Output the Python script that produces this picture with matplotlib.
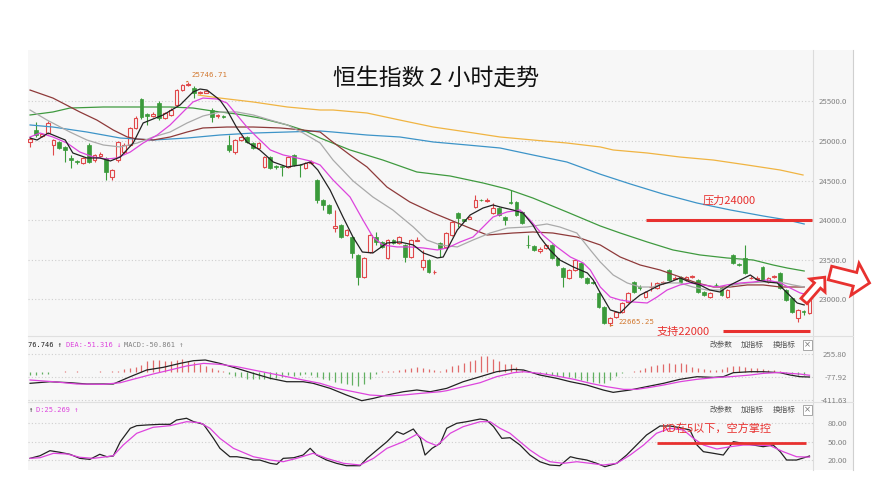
import matplotlib
matplotlib.use('Agg')
import matplotlib.pyplot as plt
from matplotlib.patches import Rectangle, FancyArrow
import numpy as np

plt.rcParams['font.family'] = ['Noto Sans CJK SC', 'DejaVu Sans']

# ---------------- data ----------------
opens = [24990, 25140, 25065, 25100, 24949, 24987, 24924, 24780, 24745, 24721,
         24949, 24759, 24815, 24785, 24545, 24759, 24860, 24949, 25164, 25530,
         25335, 25320, 25479, 25290, 25328, 25454, 25643, 25705, 25669, 25600,
         25610, 25391, 25310, 25320, 24949, 24860, 25012, 25050, 24975, 24911,
         24671, 24797, 24680, 24680, 24671, 24823, 24700, 24658, 24725, 24507,
         24260, 24191, 23900, 23938, 23812, 23787, 23560, 23282, 23597, 23787,
         23724, 23522, 23749, 23711, 23686, 23534, 23740, 23408, 23496, 23340,
         23711, 23661, 23812, 24090, 24010, 24020, 24165, 24260, 24245, 24090,
         24153, 24040, 24235, 24228, 24100, 23690, 23673, 23615, 23648, 23686,
         23522, 23395, 23269, 23370, 23458, 23269, 23215, 23080, 22903, 22701,
         22776, 22840, 22966, 23218, 23150, 23029, 23150, 23143, 23200, 23370,
         23262, 23282, 23244, 23280, 23244, 23092, 23029, 23185, 23143, 23029,
         23560, 23440, 23522, 23265, 23262, 23408, 23218, 23278, 23332, 23117,
         23016, 22764, 22850, 22827]
highs = [25045, 25240, 25100, 25250, 25030, 25000, 24940, 24823, 24760, 24800,
         24975, 24840, 24860, 24800, 24650, 25000, 24970, 25180, 25310, 25545,
         25350, 25360, 25500, 25370, 25410, 25660, 25720, 25746.71, 25700, 25630,
         25640, 25410, 25340, 25330, 25075, 25030, 25065, 25065, 24990, 24990,
         24810, 24810, 24690, 24690, 24810, 24840, 24710, 24735, 24760, 24520,
         24270, 24200, 24128, 23950, 23890, 23800, 23570, 23535, 23830, 23850,
         23740, 23765, 23760, 23800, 23700, 23765, 23790, 23623, 23510, 23370,
         23725, 23850, 23990, 24100, 24020, 24050, 24317, 24270, 24275, 24216,
         24165, 24050, 24380, 24240, 24115, 23812, 23690, 23660, 23700, 23700,
         23535, 23410, 23385, 23510, 23470, 23280, 23225, 23095, 22915, 22780,
         22855, 22965, 23090, 23230, 23180, 23105, 23220, 23220, 23230, 23385,
         23290, 23295, 23300, 23305, 23260, 23105, 23095, 23200, 23155, 23130,
         23575, 23455, 23686, 23290, 23290, 23420, 23285, 23305, 23345, 23130,
         23030, 22880, 22860, 23005]
lows = [24920, 25050, 25050, 25090, 24823, 24900, 24734, 24658, 24710, 24710,
        24720, 24740, 24800, 24507, 24510, 24740, 24840, 24930, 25150, 25280,
        25200, 25300, 25270, 25280, 25310, 25440, 25630, 25690, 25540, 25590,
        25600, 25240, 25290, 25290, 24860, 24840, 25000, 24970, 24900, 24900,
        24660, 24640, 24650, 24560, 24655, 24680, 24545, 24645, 24715, 24215,
        24128, 24080, 23850, 23770, 23800, 23522, 23181, 23270, 23580, 23686,
        23650, 23510, 23700, 23700, 23470, 23520, 23730, 23370, 23330, 23320,
        23534, 23650, 23800, 23913, 23985, 24010, 24150, 24240, 24235, 24080,
        24050, 23938, 24200, 24050, 23950, 23648, 23610, 23590, 23635, 23510,
        23420, 23155, 23255, 23360, 23270, 23195, 23190, 22890, 22690, 22665.25,
        22765, 22830, 22955, 23080, 23120, 23015, 23100, 23130, 23190, 23230,
        23250, 23205, 23230, 23270, 23080, 23040, 23015, 23165, 23040, 23015,
        23445, 23420, 23320, 23250, 23250, 23230, 23205, 23265, 23130, 22980,
        22825, 22713, 22800, 22815]
closes = [25020, 25075, 25085, 25227, 25012, 24911, 24886, 24760, 24730, 24785,
          24734, 24823, 24830, 24608, 24633, 24987, 24949, 25164, 25290, 25302,
          25320, 25340, 25290, 25353, 25391, 25643, 25707, 25725, 25606, 25615,
          25625, 25302, 25325, 25305, 24886, 25012, 25050, 24987, 24911, 24975,
          24797, 24658, 24665, 24665, 24797, 24696, 24690, 24721, 24740, 24254,
          24191, 24090, 23925, 23787, 23875, 23585, 23282, 23522, 23812, 23724,
          23661, 23749, 23711, 23787, 23534, 23749, 23755, 23496, 23345, 23350,
          23648, 23837, 23976, 24027, 23995, 24035, 24254, 24248, 24260, 24153,
          24065, 24002, 24220, 24065, 23964, 23680, 23623, 23630, 23686, 23522,
          23433, 23282, 23370, 23496, 23282, 23206, 23200, 22903, 22701, 22764,
          22840, 22953, 23080, 23092, 23140, 23092, 23160, 23206, 23215, 23244,
          23275, 23218, 23282, 23292, 23092, 23054, 23080, 23175, 23054, 23117,
          23458, 23430, 23332, 23275, 23275, 23244, 23269, 23290, 23143, 22991,
          22840, 22865, 22835, 22991]

ma5_x = [0, 1.2, 3.1, 6.0, 7.3, 9.7, 11.9, 13.7, 15.4, 17.6, 19.3, 22.7, 25.6, 27.8, 29.0,
         30.2, 32.4, 33.6, 35.3, 37.0, 39.2, 41.5, 43.9, 46.1, 47.8, 49.1, 51.2, 53.4, 55.1,
         56.7, 58.5, 60.9, 63.1, 65.4, 67.1, 69.5, 70.5, 72.9, 75.1, 77.3, 79.0, 80.2, 82.4,
         84.1, 85.8, 87.0, 88.7, 90.4, 92.7, 95.1, 96.1, 97.3, 99.0, 100.7, 102.4, 104.1,
         105.8, 107.5, 109.2, 110.9, 112.6, 114.3, 116.0, 117.7, 119.5, 121.2, 122.9, 124.1,
         125.8, 127.5, 129.2, 130.9, 132.1]
ma5_y = [25037, 25012, 25100, 25012, 24848, 24785, 24785, 24747, 24797, 24974, 25227, 25328,
         25454, 25618, 25656, 25643, 25517, 25391, 25164, 24987, 24886, 24734, 24671, 24696,
         24734, 24633, 24380, 24039, 23787, 23597, 23585, 23711, 23724, 23686, 23585, 23522,
         23534, 23875, 24065, 24153, 24191, 24166, 24128, 24090, 23938, 23787, 23623, 23496,
         23408, 23332, 23244, 23080, 22865, 22827, 22953, 23054, 23117, 23181, 23218, 23269,
         23218, 23181, 23117, 23092, 23181, 23244, 23307, 23244, 23218, 23206, 23080, 22953,
         22928]
ma10_x = [0, 1.7, 3.9, 6.3, 8.5, 10.8, 13.1, 14.8, 17.1, 19.3, 21.7, 23.9, 26.1, 27.8, 29.5,
          31.9, 33.6, 35.3, 37.0, 38.7, 41.0, 43.2, 45.6, 47.8, 49.5, 51.7, 54.6, 56.8, 58.5,
          60.2, 62.6, 64.8, 67.1, 69.5, 71.2, 73.4, 75.6, 77.3, 79.0, 81.4, 83.6, 85.3, 87.5,
          89.9, 92.2, 94.4, 95.6, 97.3, 99.0, 100.7, 102.9, 105.3, 107.0, 108.7, 110.9, 112.6,
          114.8, 117.2, 118.9, 121.2, 123.4, 125.8, 128.0, 129.7, 131.4, 132.1]
ma10_y = [25050, 25100, 25050, 24974, 24860, 24797, 24772, 24785, 24860, 24974, 25075, 25202,
          25366, 25492, 25542, 25530, 25479, 25328, 25176, 25050, 24886, 24823, 24785, 24747,
          24696, 24507, 24292, 24002, 23787, 23686, 23661, 23661, 23648, 23623, 23648, 23724,
          23787, 23913, 24039, 24103, 24128, 24002, 23812, 23661, 23534, 23458, 23370, 23155,
          23029, 22991, 22966, 22953, 23029, 23117, 23181, 23206, 23181, 23155, 23181, 23206,
          23218, 23244, 23206, 23143, 23080, 23067]
ma20_x = [0, 2.9, 6.8, 9.7, 12.5, 15.4, 18.3, 21.0, 23.9, 26.8, 29.5, 32.4, 35.3, 38.1, 41.0,
          43.9, 46.6, 49.5, 51.7, 55.1, 58.5, 61.9, 65.4, 67.7, 70.0, 72.9, 75.6, 78.5, 81.4,
          84.8, 88.2, 90.4, 93.3, 95.6, 97.3, 99.5, 101.9, 104.1, 106.3, 108.0, 110.9, 113.1,
          115.5, 117.7, 120.0, 122.4, 125.1, 128.0, 130.2, 132.1]
ma20_y = [25391, 25264, 25113, 25012, 24949, 24924, 24974, 25050, 25113, 25227, 25315, 25366,
          25366, 25328, 25264, 25202, 25100, 24974, 24759, 24496, 24292, 24128, 23913, 23749,
          23686, 23661, 23749, 23837, 23900, 23913, 23951, 23913, 23837, 23623, 23471, 23307,
          23206, 23155, 23155, 23206, 23206, 23155, 23117, 23117, 23181, 23206, 23218, 23218,
          23181, 23155]
ma30_x = [0, 3.9, 8.5, 11.4, 14.2, 16.6, 18.3, 21.0, 23.9, 26.8, 29.5, 33.6, 38.1, 42.7, 46.6,
          49.5, 51.2, 54.6, 57.5, 60.9, 64.8, 68.8, 71.7, 74.6, 78.0, 82.4, 85.8, 89.2, 93.3,
          97.3, 100.7, 104.1, 107.5, 110.9, 113.8, 116.6, 119.5, 122.4, 125.1, 128.0, 132.1]
ma30_y = [25643, 25542, 25366, 25264, 25138, 25050, 25024, 25012, 25050, 25113, 25164, 25176,
          25176, 25164, 25138, 25113, 25012, 24823, 24671, 24418, 24229, 24090, 24002, 23913,
          23812, 23837, 23850, 23837, 23787, 23686, 23534, 23433, 23370, 23282, 23206, 23155,
          23155, 23181, 23181, 23155, 23155]
ma60_x = [0, 3.9, 6.8, 12.5, 18.3, 23.9, 27.8, 31.2, 35.3, 39.2, 43.9, 46.6, 49.5, 54.6, 60.2,
          66.0, 71.7, 77.3, 81.4, 85.8, 91.6, 97.3, 100.7, 105.3, 109.7, 114.3, 118.9, 123.4,
          126.8, 129.2, 132.1]
ma60_y = [25328, 25366, 25416, 25429, 25429, 25429, 25416, 25378, 25340, 25290, 25202, 25138,
          25037, 24886, 24759, 24608, 24557, 24469, 24393, 24279, 24103, 23926, 23837, 23724,
          23623, 23560, 23522, 23496, 23433, 23395, 23357]
ma120_x = [0, 3.9, 9.7, 15.4, 21.0, 26.8, 32.4, 38.1, 43.9, 49.5, 51.7, 57.5, 63.1, 68.8, 74.6,
           80.2, 85.8, 91.6, 97.3, 102.4, 108.0, 113.8, 119.5, 125.1, 129.2, 132.1]
ma120_y = [25202, 25176, 25113, 25037, 25012, 25037, 25075, 25100, 25113, 25126, 25113, 25075,
           25050, 24987, 24949, 24911, 24823, 24734, 24580, 24457, 24330, 24216, 24128, 24052,
           24002, 23951]
ma250_x = [28.7, 32.4, 38.1, 43.9, 49.5, 51.7, 57.5, 63.1, 68.8, 74.6, 80.2, 85.8, 91.6, 97.3,
           99.5, 105.3, 110.9, 116.6, 122.4, 128.0, 131.9]
ma250_y = [25580, 25542, 25492, 25429, 25391, 25391, 25353, 25264, 25176, 25113, 25050, 25012,
           24974, 24924, 24886, 24848, 24797, 24759, 24696, 24633, 24570]

macd_hist = [-50, -45, -40, -35, -10, -5, 5, -5, 5, -5, -10, -5, 5, -5, 5, 10,
             40, 60, 75, 100, 150, 170, 170, 160, 150, 170, 180, 160, 140, 110, 80, 50, 20, 5,
             -30, -60, -80, -100, -110, -110, -110, -100, -90, -70, -50, -60, -50, -40, -50,
             -70, -100, -120, -150, -170, -180, -190, -200, -180, -110, -40,
             5, 5, 15, 25, 40, 55, 70, 50, 40, 30, 15,
             40, 80, 100, 120, 150, 170, 230, 230, 190, 150, 110, 110, 70, 30,
             -10, -20, -30, -40, -50, -60, -70, -80, -90, -120, -140, -150, -170, -160, -120,
             -60, -20, -5,
             5, 30, 50, 80, 100, 110, 120, 110, 120, 110, 70, 50, 40, 30, 30, 40, 70, 80, 80,
             70, 60, 50, 40, 30, 20, 10, -20, -30, -50, -50.861]
dif_x = [0, 3.4, 6.8, 9.7, 14.2, 17.1, 19.9, 22.7, 25.6, 27.9, 29.9, 32.4, 35.3, 38.1, 41.0,
         43.8, 46.6, 48.3, 51.2, 54.0, 56.6, 58.6, 60.9, 63.7, 66.0, 68.3, 71.1, 73.9, 76.8,
         79.6, 82.5, 84.2, 87.0, 89.9, 92.2, 95.0, 97.8, 99.5, 102.4, 105.2, 108.1, 110.9,
         113.8, 116.6, 118.3, 120.0, 122.9, 125.1, 128.0, 129.7, 131.4, 133]
dif_y = [-168, -145, -159, -178, -178, -72, 25, 63, 121, 160, 170, 121, 49, -24, -96, -145,
         -145, -168, -241, -338, -420, -386, -338, -290, -265, -290, -241, -145, -72, 0, 34,
         25, -48, -96, -145, -193, -265, -299, -265, -217, -168, -110, -72, -82, -72, -14, 0,
         0, -14, -48, -72, -76.746]
dea_x = [0, 4.0, 8.0, 12.5, 15.4, 18.2, 21.0, 23.9, 26.7, 29.6, 32.4, 35.3, 38.1, 41.0, 43.8,
         46.6, 49.5, 52.3, 55.2, 58.0, 60.9, 63.7, 66.6, 70.0, 71.1, 73.9, 76.8, 79.6, 82.5,
         84.2, 87.0, 89.9, 92.8, 95.6, 98.4, 101.3, 103.5, 105.8, 108.1, 110.9, 113.8, 116.6,
         119.5, 122.9, 125.1, 128.0, 129.7, 131.4, 133]
dea_y = [-120, -145, -178, -183, -159, -96, -33, 25, 83, 121, 107, 73, 25, -24, -72, -120,
         -168, -241, -290, -338, -352, -338, -314, -290, -275, -217, -159, -72, -14, 0, -24,
         -63, -110, -168, -217, -256, -256, -227, -193, -145, -110, -87, -72, -48, -24, -10,
         -24, -34, -51.316]

k_x = [0, 1.7, 3.4, 5.1, 6.8, 8.5, 10.2, 11.9, 13.1, 14.2, 15.4, 17.1, 18.2, 19.9, 22.2, 23.9,
       25.0, 26.7, 27.9, 29.6, 31.3, 32.4, 34.1, 35.3, 37.0, 38.1, 39.2, 41.0, 42.1, 43.2, 45.0,
       46.6, 47.8, 48.9, 50.6, 52.3, 54.0, 56.3, 57.5, 59.2, 60.9, 62.6, 63.7, 65.4, 66.6, 67.4,
       68.6, 70.0, 71.1, 72.8, 74.5, 76.8, 77.9, 79.1, 80.5, 81.9, 83.6, 85.3, 87.0, 88.7, 90.4,
       92.2, 93.3, 95.0, 96.7, 98.1, 100.1, 101.8, 103.5, 105.2, 107.5, 109.2, 110.9, 112.6,
       113.8, 114.9, 116.6, 118.3, 120.0, 121.7, 123.4, 125.1, 126.8, 128.0, 129.1, 130.8, 133]
k_y = [23.3, 27.5, 35.6, 33.0, 29.8, 23.3, 21.7, 29.8, 25.9, 27.0, 50, 71.5, 75.7, 76.8, 77.9,
       77.9, 84.8, 87.6, 82.2, 77.9, 55.4, 39.4, 25.9, 25.9, 23.3, 20.6, 20.6, 15.3, 13.7, 23.3,
       24.3, 28.6, 39.4, 28.6, 20.6, 15.3, 11.5, 11.5, 23.3, 36.7, 50, 66.1, 61.9, 70.4, 55.4,
       28.6, 39.4, 47.4, 71.5, 79.5, 82.1, 86.4, 84.8, 74.1, 55.4, 56.4, 44.7, 28.6, 17.9, 12.6,
       11.5, 25.9, 23.3, 20.6, 15.3, 9.9, 15.3, 28.6, 44.7, 60.8, 75.2, 75.2, 72.5, 68.8, 44.7,
       34.0, 31.4, 28.6, 50, 47.4, 44.7, 42, 44.7, 34, 20.6, 20.6, 27]
d_x = [0, 1.7, 4.0, 6.3, 8.5, 10.8, 13.1, 14.2, 15.9, 18.2, 21.0, 23.9, 26.7, 29.0, 30.7, 32.4,
       34.7, 38.1, 41.0, 43.2, 45.5, 48.3, 50.6, 53.5, 56.3, 58.6, 60.9, 63.7, 66.0, 67.7, 69.4,
       71.7, 73.9, 76.8, 78.5, 80.2, 81.9, 83.6, 85.3, 87.0, 88.7, 91.0, 93.3, 95.6, 97.8,
       100.1, 102.4, 104.7, 106.9, 109.2, 111.5, 113.2, 114.9, 117.2, 119.5, 121.7, 124.0,
       126.3, 128.5, 130.8, 133]
d_y = [23.3, 24.3, 31.4, 30.3, 25.0, 23.3, 25.9, 27.5, 44.7, 63.5, 73.1, 75.7, 82.1, 80.5,
       71.5, 55.4, 39.4, 25.9, 20.6, 17.9, 23.3, 31.4, 23.3, 15.3, 12.6, 23.3, 39.4, 50, 61.9,
       50, 43.6, 63.5, 74.1, 82.1, 82.1, 71.5, 63.5, 50, 36.7, 25.9, 17.9, 15.3, 17.9, 15.3,
       12.6, 15.3, 28.6, 44.7, 63.5, 71.5, 68.8, 55.4, 44.7, 38.3, 42, 44.7, 44.7, 43.6, 34,
       25.9, 25.269]

price_ticks = [23000, 23500, 24000, 24500, 25000, 25500]
macd_ticks = [255.80, -77.92, -411.63]
kd_ticks = [80, 50, 20]

# ---------------- styling ----------------
W, H = 873, 500
BG = '#f7f7f7'
RED = '#e0484a'
GREEN = '#3a9a3a'
MAG = '#dd44dd'
ANN_RED = '#e8312f'
ORANGE = '#d2782f'

fig = plt.figure(figsize=(8.73, 5.0), dpi=100)
fig.patch.set_facecolor('white')


def rect(x0, y0, x1, y1):
    return [x0 / W, 1 - y1 / H, (x1 - x0) / W, (y1 - y0) / H]


bg = fig.add_axes([0, 0, 1, 1], zorder=0)
bg.set_xlim(0, W)
bg.set_ylim(H, 0)
bg.axis('off')
bg.add_patch(Rectangle((28, 50), 825, 420, facecolor=BG, edgecolor='none'))
bg.plot([813, 813], [50, 470], color='#dcdcdc', lw=0.8)
bg.plot([853, 853], [50, 470], color='#d0d0d0', lw=0.8)
bg.plot([28, 853], [336, 336], color='#e0e0e0', lw=0.8)
bg.plot([28, 853], [402, 402], color='#e0e0e0', lw=0.8)

XMIN, XMAX = -0.35, 133.6


def style_axis(a, ticks, labels):
    a.set_facecolor('none')
    a.set_xlim(XMIN, XMAX)
    for s in a.spines.values():
        s.set_visible(False)
    a.set_xticks([])
    a.yaxis.tick_right()
    a.set_yticks(ticks)
    a.set_yticklabels(labels)
    a.tick_params(axis='y', length=0, pad=24.5, labelsize=5.6, labelcolor='#808080')
    for lbl in a.get_yticklabels():
        lbl.set_horizontalalignment('right')
    a.grid(axis='y', linestyle=(0, (1, 2)), color='#cfcfcf', lw=0.8)
    a.set_axisbelow(True)


# ---------------- main price pane ----------------
ax = fig.add_axes(rect(28, 50, 813, 336), zorder=2)
ax.set_ylim(22536, 26149)
style_axis(ax, price_ticks, [f'{v:.1f}' for v in price_ticks])

for i, (o, h, l, c) in enumerate(zip(opens, highs, lows, closes)):
    up = c >= o
    col = RED if up else GREEN
    ax.vlines(i, l, h, color=col, lw=0.8, zorder=2)
    bottom = min(o, c)
    height = max(abs(c - o), 9)
    if up:
        ax.bar(i, height, bottom=bottom, width=0.64, facecolor=BG, edgecolor=col,
               linewidth=0.8, zorder=3)
    else:
        ax.bar(i, height, bottom=bottom, width=0.64, facecolor=col, edgecolor=col,
               linewidth=0.5, zorder=3)

ax.plot(ma250_x, ma250_y, color='#f0b442', lw=0.9, zorder=4)
ax.plot(ma120_x, ma120_y, color='#3d94c8', lw=0.9, zorder=4)
ax.plot(ma60_x, ma60_y, color='#3f9a3f', lw=0.9, zorder=4)
ax.plot(ma30_x, ma30_y, color='#8e3a3a', lw=0.9, zorder=4)
ax.plot(ma20_x, ma20_y, color='#aaaaaa', lw=0.9, zorder=4)
ax.plot(ma10_x, ma10_y, color=MAG, lw=0.9, zorder=4)
ax.plot(ma5_x, ma5_y, color='#222222', lw=0.9, zorder=4)

hi_i = int(np.argmax(highs))
lo_i = int(np.argmin(lows))
ax.annotate(f'{highs[hi_i]:.2f}', xy=(hi_i - 0.3, highs[hi_i]), xytext=(5, 4),
            textcoords='offset pixels', ha='left', va='bottom', color=ORANGE,
            fontsize=5.3, family='DejaVu Sans Mono',
            arrowprops=dict(arrowstyle='-', color=ORANGE, lw=0.8), zorder=6)
ax.annotate(f'{lows[lo_i]:.2f}', xy=(lo_i, lows[lo_i]), xytext=(8, 4),
            textcoords='offset pixels', ha='left', va='center', color=ORANGE,
            fontsize=5.3, family='DejaVu Sans Mono',
            arrowprops=dict(arrowstyle='-', color=ORANGE, lw=0.8), zorder=6)

# resistance / support lines
ax.hlines(24000, 105.1, 133.4, color=ANN_RED, lw=2.2, zorder=5)
ax.hlines(22593, 118.3, 133.1, color=ANN_RED, lw=2.2, zorder=5)

# ---------------- MACD pane ----------------
am = fig.add_axes(rect(28, 336, 813, 402), zorder=2)
am.set_ylim(-439, 518)
style_axis(am, macd_ticks, [f'{v:.2f}' for v in macd_ticks])
hx = np.arange(len(macd_hist))
hv = np.array(macd_hist)
am.vlines(hx[hv >= 0], 0, hv[hv >= 0], color='#e06a6a', lw=0.9, zorder=2)
am.vlines(hx[hv < 0], 0, hv[hv < 0], color='#62b062', lw=0.9, zorder=2)
am.plot(dif_x, dif_y, color='#222222', lw=0.9, zorder=3)
am.plot(dea_x, dea_y, color=MAG, lw=0.9, zorder=3)

# ---------------- KD pane ----------------
ak = fig.add_axes(rect(28, 402, 813, 470), zorder=2)
ak.set_ylim(4.6, 113.7)
style_axis(ak, kd_ticks, [f'{v:.2f}' for v in kd_ticks])
ak.plot(k_x, k_y, color='#222222', lw=0.9, zorder=3)
ak.plot(d_x, d_y, color=MAG, lw=0.9, zorder=3)
ak.hlines(47.4, 107.0, 132.4, color=ANN_RED, lw=2.0, zorder=5)

# ---------------- overlay texts / shapes ----------------
ov = fig.add_axes([0, 0, 1, 1], zorder=10)
ov.set_xlim(0, W)
ov.set_ylim(H, 0)
ov.axis('off')

ov.text(436, 78, '恒生指数 2 小时走势', ha='center', va='center', fontsize=16.5,
        color='#111111')

ov.text(703, 201, '压力24000', ha='left', va='center', fontsize=8, color=ANN_RED)
ov.text(657, 331.5, '支持22000', ha='left', va='center', fontsize=8, color=ANN_RED)
ov.text(662, 429, 'KD在5以下，空方掌控', ha='left', va='center', fontsize=8, color=ANN_RED)

mono = 'DejaVu Sans Mono'
ov.text(28, 345, '76.746 ↑', ha='left', va='center', fontsize=5.0, family=mono, color='#222222')
ov.text(66, 345, 'DEA:-51.316 ↓', ha='left', va='center', fontsize=5.0, family=mono, color=MAG)
ov.text(124, 345, 'MACD:-50.861 ↑', ha='left', va='center', fontsize=5.0, family=mono, color='#808080')
ov.text(28, 410, '↑', ha='left', va='center', fontsize=5.0, family=mono, color='#222222')
ov.text(36, 410, 'D:25.269 ↑', ha='left', va='center', fontsize=5.0, family=mono, color=MAG)

for yy in (345, 410):
    ov.text(710, yy, '改参数', ha='left', va='center', fontsize=5.5, color='#555555')
    ov.text(741, yy, '加指标', ha='left', va='center', fontsize=5.5, color='#555555')
    ov.text(773, yy, '换指标', ha='left', va='center', fontsize=5.5, color='#555555')
    ov.add_patch(Rectangle((803, yy - 5), 9, 10, facecolor='white', edgecolor='#999999', lw=0.6))
    ov.text(807.5, yy, '×', ha='center', va='center', fontsize=6, color='#777777',
            family='DejaVu Sans')

# hollow red arrows on the right
ov.add_patch(FancyArrow(804, 301, 13.5, -15.5, width=8, head_width=20, head_length=11,
                        length_includes_head=False, facecolor='white', edgecolor=ANN_RED,
                        lw=2.0))
ov.add_patch(FancyArrow(830, 273, 25, 6.3, width=14, head_width=33, head_length=15,
                        length_includes_head=False, facecolor='white', edgecolor=ANN_RED,
                        lw=2.0))

fig.savefig('out.png', dpi=100, facecolor='white')
